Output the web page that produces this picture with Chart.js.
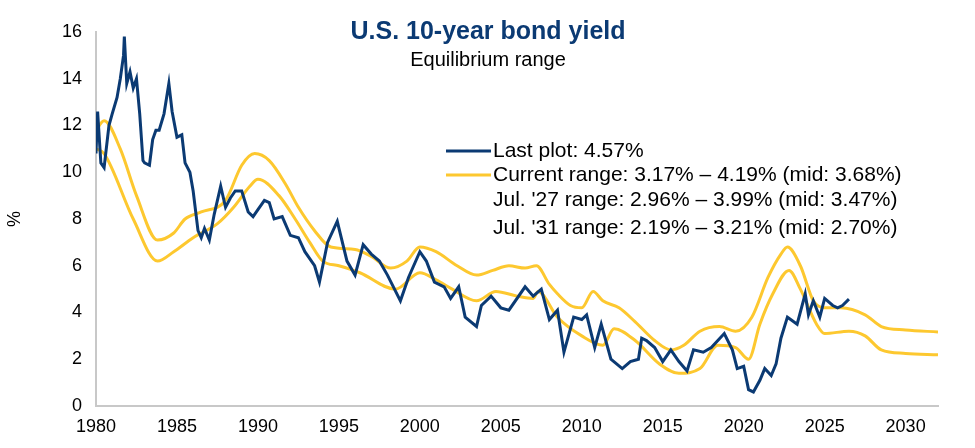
<!DOCTYPE html>
<html lang="en">
<head>
  <meta charset="UTF-8" />
  <title>U.S. 10-year bond yield</title>
  <script src="https://cdn.jsdelivr.net/npm/chart.js"></script>
  <style>
    body { margin: 0; background: #fff; }
    #wrap { width: 975px; height: 448px; }
  </style>
</head>
<body>
  <div id="wrap"><canvas id="chartYield"></canvas></div>
  <script>
    // Data (year, %)
    const yieldYears = [1980.0,1980.1,1980.3,1980.5,1980.8,1981.0,1981.3,1981.5,1981.7,1981.75,1981.9,1982.1,1982.3,1982.5,1982.7,1982.9,1983.0,1983.3,1983.5,1983.7,1983.9,1984.2,1984.5,1984.7,1985.0,1985.3,1985.5,1985.8,1986.0,1986.3,1986.5,1986.7,1987.0,1987.3,1987.7,1988.0,1988.3,1988.6,1989.0,1989.4,1989.7,1990.0,1990.4,1990.7,1991.0,1991.5,1992.0,1992.5,1992.9,1993.5,1993.8,1994.3,1994.9,1995.5,1996.0,1996.5,1997.0,1997.5,1998.0,1998.8,1999.3,2000.0,2000.4,2000.9,2001.5,2001.9,2002.4,2002.8,2003.5,2003.8,2004.4,2005.0,2005.5,2006.5,2007.0,2007.5,2008.0,2008.5,2008.9,2009.5,2010.0,2010.3,2010.8,2011.2,2011.8,2012.5,2013.0,2013.5,2013.7,2014.0,2014.5,2015.0,2015.5,2016.0,2016.5,2016.9,2017.5,2018.0,2018.8,2019.3,2019.6,2020.0,2020.3,2020.6,2021.0,2021.3,2021.7,2022.0,2022.3,2022.7,2022.9,2023.3,2023.8,2024.0,2024.3,2024.7,2025.0,2025.5,2025.8,2026.1,2026.5];
    const yieldValues = [10.8,12.6,10.4,10.2,12.0,12.5,13.2,14.0,15.0,15.8,13.8,14.3,13.6,14.0,12.5,10.5,10.4,10.3,11.4,11.8,11.8,12.5,13.8,12.6,11.5,11.6,10.4,10.0,9.2,7.5,7.2,7.6,7.1,8.2,9.4,8.5,8.9,9.2,9.2,8.3,8.1,8.4,8.8,8.7,8.0,8.1,7.3,7.2,6.6,6.0,5.3,7.0,7.9,6.2,5.6,6.9,6.5,6.2,5.6,4.5,5.5,6.6,6.2,5.3,5.1,4.6,5.1,3.8,3.4,4.3,4.7,4.2,4.1,5.1,4.7,5.0,3.7,4.1,2.3,3.8,3.7,3.9,2.5,3.5,2.0,1.6,1.9,2.0,2.9,2.8,2.5,1.9,2.4,1.9,1.5,2.4,2.3,2.5,3.1,2.4,1.6,1.7,0.7,0.6,1.1,1.6,1.3,1.8,2.9,3.8,3.7,3.5,4.8,3.9,4.5,3.8,4.6,4.3,4.2,4.3,4.57];

    const upperYears = [1980,1980.5,1981.5,1982.5,1983.8,1984.8,1985.5,1986.5,1988,1989,1989.8,1990.7,1991.7,1992.5,1993.5,1994.5,1996,1997,1998.2,1999.2,2000,2001,2002.3,2003.5,2004.5,2005.5,2006.5,2007.2,2008,2008.5,2009.3,2010,2010.7,2011.3,2012.3,2013.3,2014.5,2015.5,2016.3,2017.3,2018.5,2019.5,2020.5,2021.5,2022.3,2022.7,2023.5,2024.3,2025,2026,2027.5,2028.5,2030,2032];
    const upperValues = [11.8,12.2,11.0,9.0,7.1,7.4,8.0,8.3,8.8,10.3,10.8,10.5,9.5,8.5,7.5,6.8,6.7,6.4,5.9,6.2,6.8,6.6,6.0,5.6,5.8,6.0,5.9,6.0,5.2,4.8,4.3,4.2,4.9,4.5,4.2,3.6,2.8,2.4,2.6,3.2,3.4,3.2,3.8,5.5,6.5,6.8,6.0,4.5,4.2,4.2,3.9,3.4,3.25,3.17];

    const lowerYears = [1980,1980.5,1982.3,1983.8,1984.8,1986,1987.5,1988.5,1989.5,1990,1991.3,1992.3,1993.2,1994,1995,1996.3,1998.5,2000,2001,2002,2003.5,2004.7,2006,2007,2007.3,2008.5,2010,2011.3,2012,2013.3,2014.8,2016,2017.3,2018.4,2019.5,2020.3,2021,2021.8,2022.8,2023.5,2024.5,2025,2026.5,2027.5,2028.5,2030,2032];
    const lowerValues = [11.0,10.8,8.0,6.2,6.6,7.2,7.8,8.5,9.4,9.7,9.0,8.0,7.0,6.2,6.0,5.7,5.0,5.7,5.4,5.0,4.5,4.9,4.7,4.6,4.9,3.8,3.0,2.6,3.3,2.8,1.8,1.4,1.6,2.6,2.5,2.0,3.5,4.8,5.8,5.0,3.5,3.1,3.2,3.0,2.4,2.25,2.19];

    const legendLines = [
      'Last plot: 4.57%',
      'Current range: 3.17% \u2013 4.19% (mid: 3.68%)',
      "Jul. '27 range: 2.96% \u2013 3.99% (mid: 3.47%)",
      "Jul. '31 range: 2.19% \u2013 3.21% (mid: 2.70%)"
    ];

    const navy = '#0b3a73';
    const gold = '#fdc82f';
    const font = '"Liberation Sans", Arial';
    const toXY = (xs, ys) => xs.map((x, i) => ({ x: x, y: ys[i] }));

    // title + legend drawn as text
    const textPlugin = {
      id: 'texts',
      afterDraw(chart) {
        const c = chart.ctx;
        c.save();
        c.textAlign = 'center';
        c.textBaseline = 'middle';
        c.fillStyle = navy;
        c.font = 'bold 25px ' + font;
        c.fillText('U.S. 10-year bond yield', 488, 32);
        c.fillStyle = '#000';
        c.font = '20px ' + font;
        c.fillText('Equilibrium range', 488, 60);

        c.textAlign = 'left';
        c.font = '21px ' + font;
        const ys = [151, 175, 200, 228];
        legendLines.forEach((t, i) => c.fillText(t, 493, ys[i]));
        c.lineWidth = 3;
        c.strokeStyle = navy;
        c.beginPath(); c.moveTo(446, 151); c.lineTo(491, 151); c.stroke();
        c.strokeStyle = gold;
        c.beginPath(); c.moveTo(446, 175); c.lineTo(491, 175); c.stroke();
        c.restore();
      }
    };

    new Chart(document.getElementById('chartYield'), {
      type: 'line',
      data: {
        datasets: [
          { data: toXY(yieldYears, yieldValues), borderColor: navy, borderWidth: 3, pointRadius: 0, tension: 0 },
          { data: toXY(upperYears, upperValues), borderColor: gold, borderWidth: 3, pointRadius: 0, cubicInterpolationMode: 'monotone' },
          { data: toXY(lowerYears, lowerValues), borderColor: gold, borderWidth: 3, pointRadius: 0, cubicInterpolationMode: 'monotone' }
        ]
      },
      options: {
        responsive: true,
        maintainAspectRatio: false,
        animation: false,
        layout: { padding: { top: 32, right: 37, left: 0, bottom: 0 } },
        plugins: { legend: { display: false }, tooltip: { enabled: false } },
        scales: {
          x: {
            type: 'linear', min: 1980, max: 2032,
            grid: { display: false, drawTicks: false },
            border: { color: '#c8c8c8', width: 2 },
            afterFit: s => { s.height = 42; },
            afterBuildTicks: s => { s.ticks = [1980,1985,1990,1995,2000,2005,2010,2015,2020,2025,2030].map(v => ({ value: v })); },
            ticks: { color: '#000', font: { family: font, size: 18 }, padding: 10, callback: v => String(v), maxRotation: 0 }
          },
          y: {
            min: 0, max: 16,
            grid: { display: false, drawTicks: false },
            border: { color: '#c8c8c8', width: 2 },
            afterFit: s => { s.width = 96; },
            title: { display: true, text: '%', color: '#000', font: { family: font, size: 18 } },
            ticks: { stepSize: 2, color: '#000', font: { family: font, size: 18 }, padding: 14 }
          }
        }
      },
      plugins: [textPlugin]
    });
  </script>
</body>
</html>
